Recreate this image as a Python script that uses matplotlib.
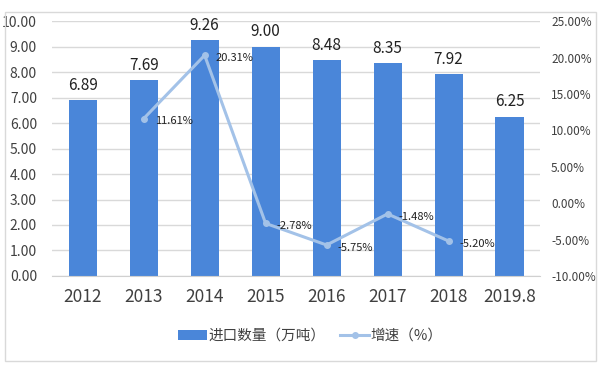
import matplotlib.pyplot as plt
from matplotlib.patches import Rectangle
from matplotlib.ticker import FuncFormatter

plt.rcParams['font.family'] = ['Noto Sans CJK SC', 'DejaVu Sans']

# data
years = ['2012', '2013', '2014', '2015', '2016', '2017', '2018', '2019.8']
imports = [6.89, 7.69, 9.26, 9.00, 8.48, 8.35, 7.92, 6.25]
growth_years = ['2013', '2014', '2015', '2016', '2017', '2018']
growth = [11.61, 20.31, -2.78, -5.75, -1.48, -5.20]

bar_color = '#4a86d9'
line_color = '#a3c2e8'
text_color = '#404040'

fig = plt.figure(figsize=(6.0, 3.65), dpi=100)
ax = fig.add_axes([0.087, 0.244, 0.813, 0.698])
ax2 = ax.twinx()

x = list(range(len(years)))
bars = ax.bar(x, imports, width=0.46, color=bar_color, zorder=2,
              label='进口数量（万吨）')
for xi, v in zip(x, imports):
    ax.text(xi, v + 0.25, f'{v:.2f}', ha='center', va='bottom',
            fontsize=11, color='#222222')

ax.set_ylim(0, 10)
ax.set_yticks([i for i in range(11)])
ax.yaxis.set_major_formatter(FuncFormatter(lambda v, p: f'{v:.2f}'))
ax.set_xlim(-0.5, len(years) - 0.5)
ax.set_xticks(x)
ax.set_xticklabels(years, fontsize=12.5, color=text_color)
ax.tick_params(axis='y', labelsize=10, colors=text_color, length=0, pad=11)
ax.tick_params(axis='x', length=0, pad=9)
ax.grid(axis='y', color='#d9d9d9', linewidth=1, zorder=0)
for s in ['top', 'left', 'right']:
    ax.spines[s].set_visible(False)
ax.spines['bottom'].set_color('#d0d0d0')

gx = [years.index(y) for y in growth_years]
line, = ax2.plot(gx, growth, color=line_color, linewidth=2.2, marker='o',
                 markersize=4, zorder=3, label='增速（%）')
for xi, v in zip(gx, growth):
    ax2.annotate(f'{v:.2f}%', (xi, v), xytext=(8, -2), textcoords='offset points',
                 ha='left', va='center', fontsize=8, color='#222222')
ax2.set_ylim(-10, 25)
ax2.set_yticks(list(range(-10, 26, 5)))
ax2.yaxis.set_major_formatter(FuncFormatter(lambda v, p: f'{v:.2f}%'))
ax2.tick_params(axis='y', labelsize=8.5, colors=text_color, length=0, pad=8)
for s in ['top', 'left', 'right', 'bottom']:
    ax2.spines[s].set_visible(False)

fig.legend(handles=[bars, line], loc='center', bbox_to_anchor=(0.517, 0.08),
           ncol=2, frameon=False, fontsize=10.5, handlelength=2.0,
           columnspacing=1.0, handletextpad=0.1, labelcolor=text_color)

fig.patches.append(Rectangle((0.008, 0.012), 0.985, 0.955, transform=fig.transFigure,
                             fill=False, edgecolor='#d9d9d9', linewidth=1))

fig.savefig('out.png', dpi=100)
